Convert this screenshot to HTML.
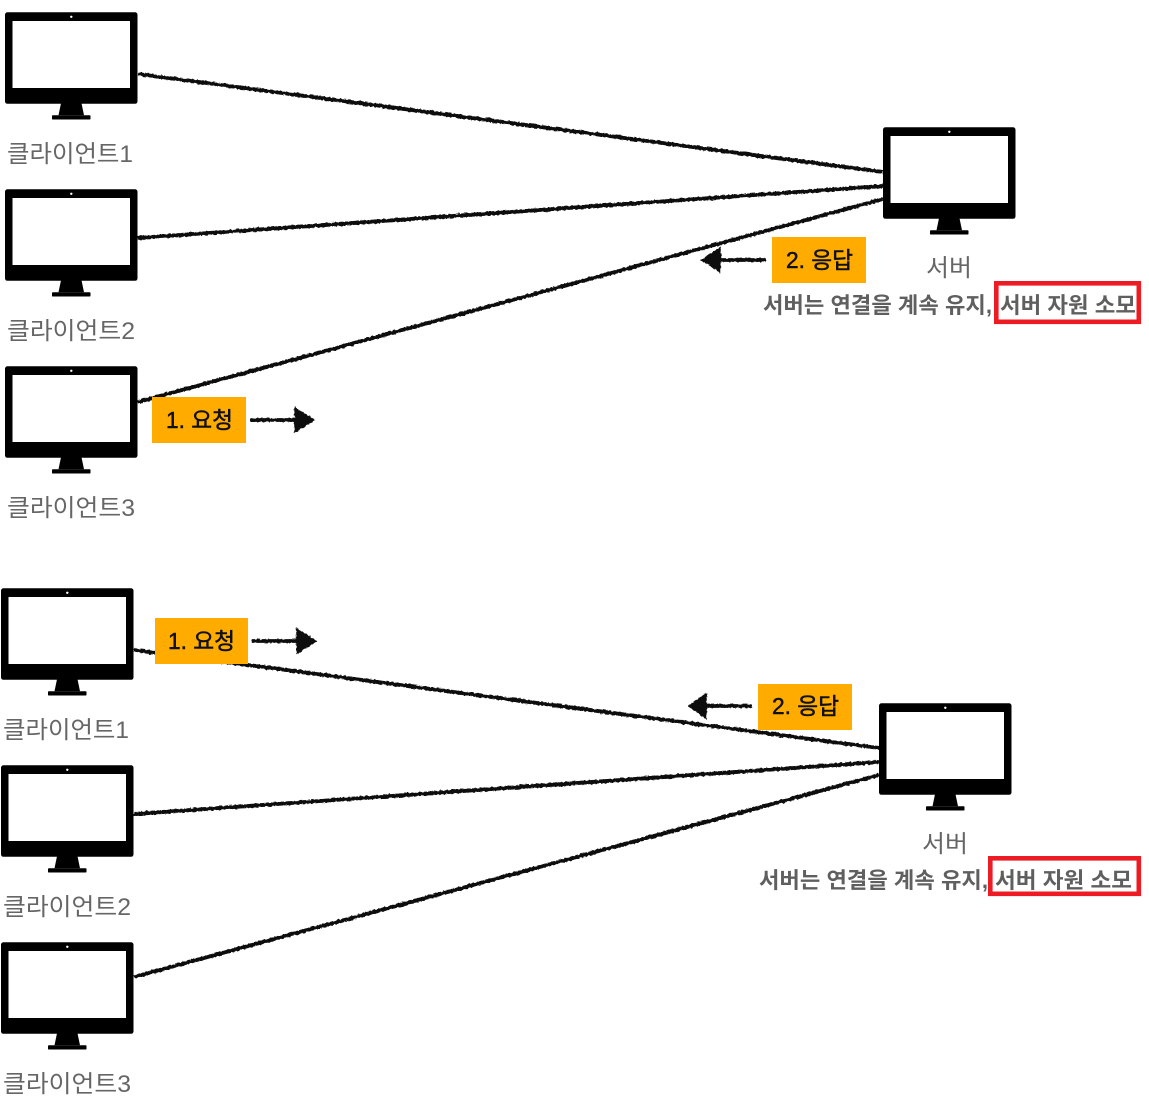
<!DOCTYPE html>
<html>
<head>
<meta charset="utf-8">
<style>
html,body{margin:0;padding:0;background:#fff;}
svg{display:block;}
.l{font-family:"Liberation Sans","Noto Sans CJK KR",sans-serif;font-size:24px;fill:#666;}
.b{font-family:"Liberation Sans","Noto Sans CJK KR",sans-serif;font-size:22px;font-weight:bold;fill:#5f5f5f;}
.o{font-family:"Liberation Sans","Noto Sans CJK KR",sans-serif;font-size:23px;fill:#111;stroke:#111;stroke-width:0.5px;}
</style>
</head>
<body>
<svg width="1149" height="1097" viewBox="0 0 1149 1097" xmlns="http://www.w3.org/2000/svg">
<defs>
<filter id="r" x="0" y="0" width="1149" height="1097" filterUnits="userSpaceOnUse">
<feTurbulence type="fractalNoise" baseFrequency="0.35" numOctaves="2" seed="4"/>
<feDisplacementMap in="SourceGraphic" scale="2.8" xChannelSelector="R" yChannelSelector="G"/>
</filter>
<g id="m">
<rect x="0" y="0" width="132.5" height="91.5" rx="2.5" fill="#000"/>
<rect x="7.5" y="8.7" width="117.5" height="67" fill="#fff"/>
<circle cx="66.3" cy="4.5" r="1.2" fill="#fff"/>
<path d="M56 91 H76.500 L79 103 H53.500 Z" fill="#000"/>
<rect x="47" y="103" width="38.500" height="4.200" rx="0.800" fill="#000"/>
</g>
</defs>
<rect width="1149" height="1097" fill="#fff"/>

<g stroke="#0a0a0a" stroke-width="3.900" fill="none" filter="url(#r)">
<path d="M138 74 L883 172"/>
<path d="M138 238 L883 186"/>
<path d="M138 402 L883 199"/>
<path d="M134 650 L879 748"/>
<path d="M134 814 L879 762"/>
<path d="M134 977 L879 775"/>
</g>

<use href="#m" x="5" y="12.300"/>
<use href="#m" x="5" y="189.300"/>
<use href="#m" x="5" y="366.300"/>
<use href="#m" x="883" y="127.300"/>
<use href="#m" x="1" y="588.300"/>
<use href="#m" x="1" y="765.300"/>
<use href="#m" x="1" y="942.300"/>
<use href="#m" x="879" y="703.300"/>

<text class="l" x="7" y="162" textLength="126" lengthAdjust="spacingAndGlyphs">클라이언트1</text>
<text class="l" x="7" y="339" textLength="128" lengthAdjust="spacingAndGlyphs">클라이언트2</text>
<text class="l" x="7" y="516" textLength="128" lengthAdjust="spacingAndGlyphs">클라이언트3</text>
<text class="l" x="3" y="738" textLength="126" lengthAdjust="spacingAndGlyphs">클라이언트1</text>
<text class="l" x="3" y="915" textLength="128" lengthAdjust="spacingAndGlyphs">클라이언트2</text>
<text class="l" x="3" y="1092" textLength="128" lengthAdjust="spacingAndGlyphs">클라이언트3</text>
<text class="l" x="926" y="276" textLength="46" lengthAdjust="spacingAndGlyphs">서버</text>
<text class="l" x="922" y="852" textLength="46" lengthAdjust="spacingAndGlyphs">서버</text>

<text class="b" x="763" y="313" textLength="229" lengthAdjust="spacingAndGlyphs">서버는 연결을 계속 유지,</text>
<text class="b" x="1000" y="313" textLength="136" lengthAdjust="spacingAndGlyphs">서버 자원 소모</text>
<rect x="996.300" y="283.300" width="142.500" height="38.500" fill="none" stroke="#ed1c24" stroke-width="4.600"/>

<text class="b" x="759" y="888" textLength="229" lengthAdjust="spacingAndGlyphs">서버는 연결을 계속 유지,</text>
<text class="b" x="995" y="888" textLength="137" lengthAdjust="spacingAndGlyphs">서버 자원 소모</text>
<rect x="990.300" y="858.300" width="148.500" height="35.500" fill="none" stroke="#ed1c24" stroke-width="4.600"/>

<rect x="152" y="397" width="94" height="46" fill="#ffab00"/>
<text class="o" x="166" y="428" textLength="67" lengthAdjust="spacingAndGlyphs">1. 요청</text>
<rect x="772" y="237" width="94" height="46" fill="#ffab00"/>
<text class="o" x="786" y="268" textLength="67" lengthAdjust="spacingAndGlyphs">2. 응답</text>
<rect x="155" y="618" width="93" height="46" fill="#ffab00"/>
<text class="o" x="168" y="649" textLength="67" lengthAdjust="spacingAndGlyphs">1. 요청</text>
<rect x="758" y="684" width="94" height="46" fill="#ffab00"/>
<text class="o" x="772" y="714" textLength="67" lengthAdjust="spacingAndGlyphs">2. 응답</text>

<g fill="#0a0a0a" stroke="#0a0a0a" filter="url(#r)">
<path d="M250 420 H296" stroke-width="3.800" fill="none"/>
<path d="M295 408 L314 420 L295 432 Z" stroke-width="1.500"/>
<path d="M252 641 H298" stroke-width="3.800" fill="none"/>
<path d="M297 629 L316 641 L297 653 Z" stroke-width="1.500"/>
<path d="M766 260 H720" stroke-width="3.800" fill="none"/>
<path d="M720 248 L702 260 L720 272 Z" stroke-width="1.500"/>
<path d="M752 706 H706" stroke-width="3.800" fill="none"/>
<path d="M706 694 L689 706 L706 718 Z" stroke-width="1.500"/>
</g>
</svg>
</body>
</html>
